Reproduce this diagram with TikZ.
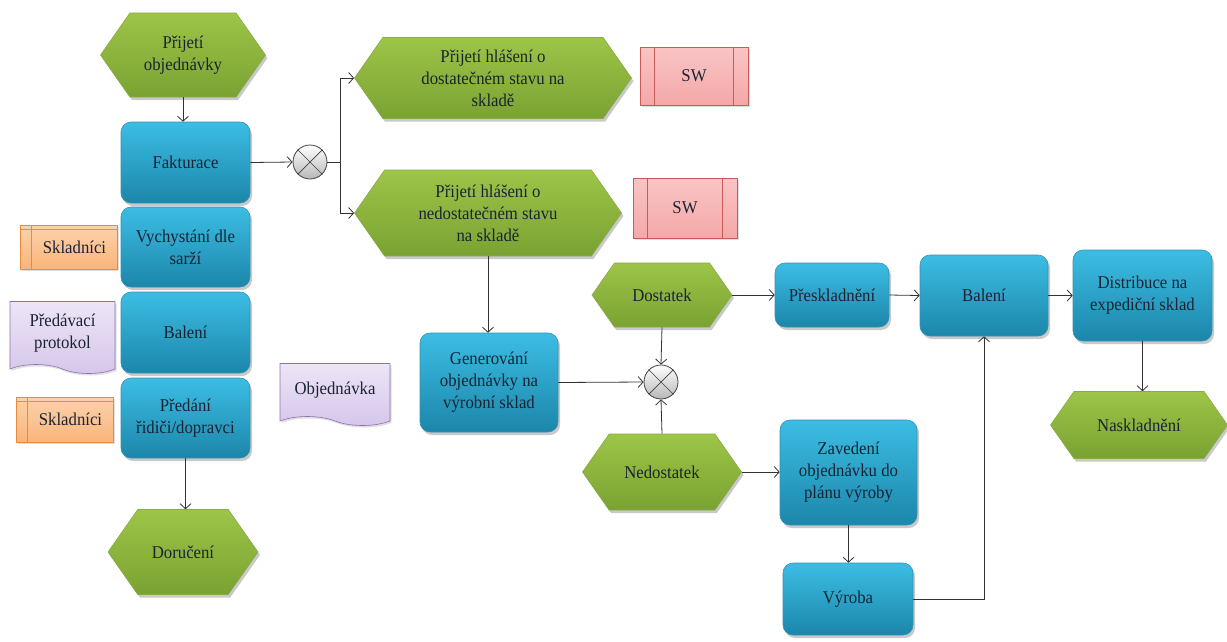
\documentclass[tikz,border=0pt]{standalone}
\usepackage{fontspec}
\setmainfont{Liberation Serif}[FakeStretch=0.93]
\usetikzlibrary{shapes.symbols,shapes.geometric,arrows.meta,shadows}

\definecolor{bluetop}{HTML}{3CBDE4}
\definecolor{bluebot}{HTML}{1C86AA}
\definecolor{greentop}{HTML}{9DC548}
\definecolor{greenbot}{HTML}{7AA232}
\definecolor{orfill}{HTML}{FCD2AC}
\definecolor{orfillb}{HTML}{F9B57A}
\definecolor{ordraw}{HTML}{E98B3A}
\definecolor{pufill}{HTML}{EDE5F7}
\definecolor{pufillb}{HTML}{D5C6EA}
\definecolor{pudraw}{HTML}{8A73AE}
\definecolor{swfill}{HTML}{FAC4C4}
\definecolor{swfillb}{HTML}{F4A8A8}
\definecolor{swdraw}{HTML}{C85A58}
\definecolor{linec}{HTML}{333333}
\definecolor{txt}{HTML}{1B2333}

\tikzset{
  base/.style={font=\fontsize{18}{22}\selectfont, text=txt, align=center, inner sep=0pt},
  softshadow/.style={drop shadow={shadow xshift=2pt, shadow yshift=-3pt, opacity=0.3, fill=black!70}},
  proc/.style={base, rectangle, rounded corners=10pt, top color=bluetop, bottom color=bluebot,
    draw=bluebot!90!white, line width=0.6pt, softshadow},
  evt/.style={base, signal, signal to=west and east, signal pointer angle=110,
    top color=greentop, bottom color=greenbot, draw=greenbot!90!white, line width=0.6pt, softshadow},
  gate/.style={circle, minimum size=34pt, inner sep=0pt, draw=black!75, line width=0.8pt,
    top color=white, bottom color=black!28},
  role/.style={base, rectangle, top color=orfill, bottom color=orfillb, draw=ordraw, line width=0.6pt,
    drop shadow={shadow xshift=1.5pt, shadow yshift=-2pt, opacity=0.25}},
  docu/.style={base, tape, tape bend top=none, tape bend bottom=out and in, tape bend height=9pt,
    top color=pufill, bottom color=pufillb, draw=pudraw, line width=0.6pt,
    drop shadow={shadow xshift=1.5pt, shadow yshift=-2pt, opacity=0.25}},
  swbox/.style={base, rectangle, top color=swfill, bottom color=swfillb, draw=swdraw, line width=0.6pt,
    drop shadow={shadow xshift=1.5pt, shadow yshift=-2pt, opacity=0.25}},
  ln/.style={draw=linec, line width=0.8pt},
  arr/.style={ln, -{Straight Barb[length=5pt,width=11pt]}},
}

\begin{document}
\begin{tikzpicture}[x=1pt,y=-1pt]
\useasboundingbox (0,0) rectangle (1227,641);

% left column: order handling
\node[evt, minimum width=165pt, minimum height=84pt] (prij) at (183,55) {Přijetí\\objednávky};
\node[proc, minimum width=129pt, minimum height=81pt] (fakt) at (185.5,162.5) {Fakturace};
\node[proc, minimum width=129pt, minimum height=80pt] (vych) at (185.5,247) {Vychystání dle\\sarží};
\node[proc, minimum width=129pt, minimum height=81pt] (bal1) at (185.5,332.5) {Balení};
\node[proc, minimum width=129pt, minimum height=80pt] (pred) at (185.5,418) {Předání\\řidiči/dopravci};
\node[evt, minimum width=150pt, minimum height=85pt] (dor) at (183,552) {Doručení};

% roles and documents
\node[role, minimum width=97pt, minimum height=44pt] (skl1) at (68.5,247) {\hspace*{12pt}Skladníci};
\node[docu, minimum width=105pt, minimum height=72pt] (proto) at (62.5,333) {Předávací\\protokol};
\node[role, minimum width=97pt, minimum height=45pt] (skl2) at (64.5,419.5) {\hspace*{12pt}Skladníci};
\node[docu, minimum width=110pt, minimum height=62pt] (objd) at (335,390) {Objednávka};

\foreach \r in {skl1,skl2}{
  \draw[draw=ordraw, line width=0.6pt] ([xshift=12pt]\r.north west) -- ([xshift=12pt]\r.south west);
  \draw[draw=ordraw, line width=0.6pt] ([yshift=-5pt]\r.north west) -- ([yshift=-5pt]\r.north east);
}

% stock check
\node[gate] (g1) at (310,162) {};
\node[evt, minimum width=277pt, minimum height=81pt] (dost) at (493,78) {Přijetí hlášení o\\dostatečném stavu na\\skladě};
\node[evt, minimum width=267pt, minimum height=86pt] (nedost) at (488,213) {Přijetí hlášení o\\nedostatečném stavu\\na skladě};
\node[swbox, minimum width=108pt, minimum height=58pt] (sw1) at (694,76) {SW};
\node[swbox, minimum width=104pt, minimum height=60pt] (sw2) at (685,208) {SW};
\foreach \s in {sw1,sw2}{
  \draw[draw=swdraw, line width=0.6pt] ([xshift=15pt]\s.north west) -- ([xshift=15pt]\s.south west);
  \draw[draw=swdraw, line width=0.6pt] ([xshift=-15pt]\s.north east) -- ([xshift=-15pt]\s.south east);
}

% production branch
\node[proc, minimum width=138pt, minimum height=99pt] (gen) at (489,382.5) {Generování\\objednávky na\\výrobní sklad};
\node[gate] (g2) at (661,382) {};
\node[evt, minimum width=140pt, minimum height=64pt] (ok) at (662,295) {Dostatek};
\node[evt, minimum width=159pt, minimum height=76pt] (nok) at (662,472) {Nedostatek};
\node[proc, minimum width=114pt, minimum height=64pt] (presk) at (832,295) {Přeskladnění};
\node[proc, minimum width=128pt, minimum height=81pt] (bal2) at (984,295.5) {Balení};
\node[proc, minimum width=139pt, minimum height=91pt] (dist) at (1142.5,295.5) {Distribuce na\\expediční sklad};
\node[evt, minimum width=177pt, minimum height=67pt] (nask) at (1139,425) {Naskladnění};
\node[proc, minimum width=137pt, minimum height=105pt] (zav) at (848.5,472.5) {Zavedení\\objednávku do\\plánu výroby};
\node[proc, minimum width=130pt, minimum height=72pt] (vyr) at (848,599) {Výroba};

\foreach \g in {g1,g2}{
  \draw[draw=black!75, line width=0.7pt] (\g.north west) -- (\g.south east);
  \draw[draw=black!75, line width=0.7pt] (\g.north east) -- (\g.south west);
}

% connectors
\draw[arr] (prij.south) -- (prij.south |- fakt.north);
\draw[arr] (fakt.east) -- (g1.west);
\draw[ln] (g1.east) -- ++(13,0) coordinate (j1);
\draw[arr] (j1) |- (dost.west);
\draw[arr] (j1) |- (nedost.west);
\draw[arr] (nedost.south) -- (nedost.south |- gen.north);
\draw[arr] (gen.east) -- (g2.west);
\draw[arr] (ok.south) -- (g2.north);
\draw[arr] (nok.north) -- (g2.south);
\draw[arr] (ok.east) -- (presk.west);
\draw[arr] (presk.east) -- (bal2.west);
\draw[arr] (bal2.east) -- (dist.west);
\draw[arr] (dist.south) -- (dist.south |- nask.north);
\draw[arr] (nok.east) -- (nok.east -| zav.west);
\draw[arr] (zav.south) -- (zav.south |- vyr.north);
\draw[arr] (vyr.east) -| (bal2.south);
\draw[arr] (pred.south) -- (pred.south |- dor.north);
\end{tikzpicture}
\end{document}
